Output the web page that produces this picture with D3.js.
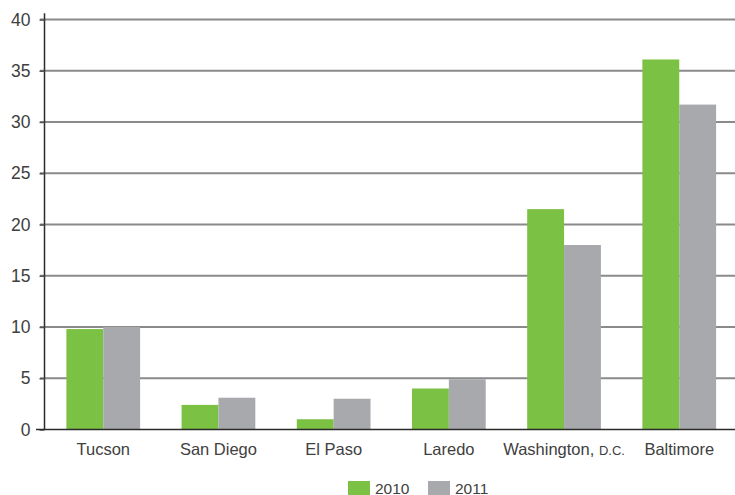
<!DOCTYPE html>
<html>
<head>
<style>
body { margin: 0; background: #fff; }
svg text { font-family: "Liberation Sans", Arial, sans-serif; fill: #404040; }
</style>
</head>
<body>
<svg width="735" height="495"></svg>
<script src="https://d3js.org/d3.v7.min.js"></script>
<script>
var cities = ["Tucson", "San Diego", "El Paso", "Laredo", "Washington, D.C.", "Baltimore"];
var years = ["2010", "2011"];
var values2010 = [9.8, 2.4, 1.0, 4.0, 21.5, 36.1];
var values2011 = [10.0, 3.1, 3.0, 4.9, 18.0, 31.7];
var yTicks = [0, 5, 10, 15, 20, 25, 30, 35, 40];
var colors = ["#7bc143", "#a8a9ad"];

var svg = d3.select("svg");

var x = d3.scaleBand()
    .domain(cities)
    .range([44.5, 738])
    .paddingInner(0.36)
    .paddingOuter(0.19);
var xs = d3.scaleBand()
    .domain(years)
    .range([0, x.bandwidth()]);
var y = d3.scaleLinear()
    .domain([0, 40])
    .range([429.5, 19.5]);

// gridlines
svg.append("g")
  .selectAll("line")
  .data(yTicks.slice(1))
  .enter().append("line")
    .attr("x1", 40).attr("x2", 735)
    .attr("y1", function(d) { return y(d); })
    .attr("y2", function(d) { return y(d); })
    .attr("stroke", "#8a8a8a")
    .attr("stroke-width", 2);

// bars
var table = cities.map(function(c, i) { return { city: c, vals: [values2010[i], values2011[i]] }; });
svg.append("g")
  .selectAll("g")
  .data(table)
  .enter().append("g")
    .attr("transform", function(d) { return "translate(" + x(d.city) + ",0)"; })
  .selectAll("rect")
  .data(function(d) { return d.vals.map(function(v, j) { return { year: years[j], v: v, j: j }; }); })
  .enter().append("rect")
    .attr("x", function(d) { return xs(d.year); })
    .attr("width", xs.bandwidth())
    .attr("y", function(d) { return y(d.v); })
    .attr("height", function(d) { return y(0) - y(d.v); })
    .attr("fill", function(d) { return colors[d.j]; });

// y axis
var yAxis = svg.append("g")
    .attr("transform", "translate(44.5,0)")
    .call(d3.axisLeft(y).tickValues(yTicks).tickSize(5).tickPadding(9));
yAxis.select(".domain").attr("stroke", "#2b2b2b").attr("stroke-width", 1.5)
    .attr("d", "M0," + y(40.6) + "V" + y(0));
yAxis.selectAll(".tick line").attr("stroke", "#555").attr("stroke-width", 1.5);
yAxis.selectAll(".tick text").style("font-size", "17.5px").attr("fill", "#404040");

// x baseline
svg.append("line")
    .attr("x1", 36).attr("x2", 735)
    .attr("y1", y(0)).attr("y2", y(0))
    .attr("stroke", "#2b2b2b").attr("stroke-width", 1.5);

// category labels
var labels = svg.append("g")
  .selectAll("text")
  .data(cities)
  .enter().append("text")
    .attr("x", function(d) { return x(d) + x.bandwidth() / 2; })
    .attr("y", 455)
    .attr("text-anchor", "middle")
    .style("font-size", "16.5px");
labels.each(function(d) {
  var t = d3.select(this);
  if (d.indexOf(", D.C.") > 0) {
    t.append("tspan").text("Washington, ");
    t.append("tspan").style("font-size", "13px").text("D.C.");
  } else {
    t.text(d);
  }
});

// legend
var legend = svg.append("g")
  .selectAll("g")
  .data(years)
  .enter().append("g")
    .attr("transform", function(d, i) { return "translate(" + (348 + i * 80) + ",481)"; });
legend.append("rect")
    .attr("width", 22).attr("height", 14)
    .attr("fill", function(d, i) { return colors[i]; });
legend.append("text")
    .attr("x", 27).attr("y", 12.5)
    .style("font-size", "15.5px")
    .text(function(d) { return d; });
</script>
</body>
</html>
